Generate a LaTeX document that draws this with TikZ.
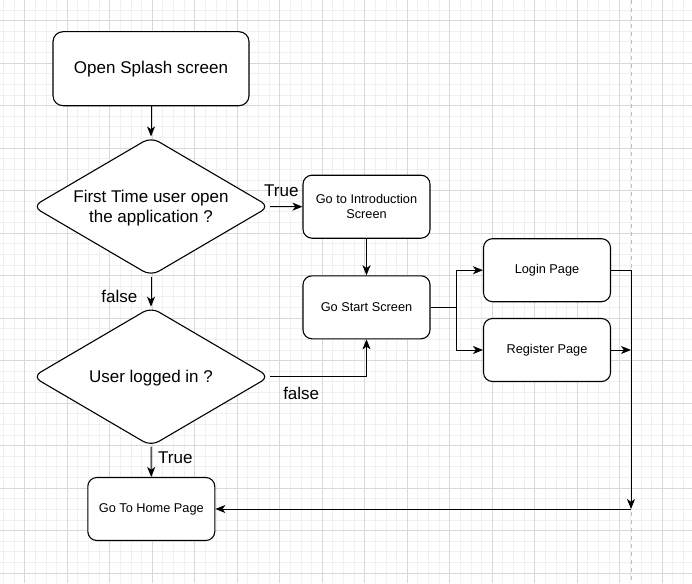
\documentclass[tikz,border=0pt]{standalone}
\usepackage{fontspec}
\setmainfont{Liberation Sans}
\usetikzlibrary{shapes.geometric,arrows.meta}
\definecolor{gridminor}{RGB}{240,240,240}
\definecolor{gridmajor}{RGB}{216,216,216}
\definecolor{pagebrk}{RGB}{192,192,192}
\begin{document}
\begin{tikzpicture}[x=1pt,y=-1pt,
 box/.style={draw=black, line width=1.1pt, fill=white, rounded corners=9pt, inner sep=0pt,
   minimum width=127pt, minimum height=63pt, font=\fontsize{12.75}{15}\selectfont, align=center},
 bigbox/.style={box, rounded corners=10pt, minimum width=196pt, minimum height=74pt,
   font=\fontsize{17}{20}\selectfont},
 dia/.style={diamond, draw=black, line width=1.1pt, fill=white, rounded corners=9pt,
   inner sep=0pt, minimum width=237pt, minimum height=139pt},
 bigtext/.style={font=\fontsize{17}{20}\selectfont, align=center, inner sep=0pt},
 lbl/.style={font=\fontsize{17}{20}\selectfont, inner sep=0pt, anchor=base},
 conn/.style={draw=black, line width=1pt, -{Stealth[length=10pt,width=8pt,inset=2.8pt]}},
 plainline/.style={draw=black, line width=1pt},
 minorline/.style={draw=gridminor, line width=1pt},
 majorline/.style={draw=gridmajor, line width=1pt},
 pageline/.style={draw=pagebrk, line width=1pt, dash pattern=on 4pt off 4pt},
]
\useasboundingbox (0,0) rectangle (692,583);
\fill[white] (0,0) rectangle (692,583);
% grid
\foreach \i in {0,...,64} { \draw[minorline] ({3.55+10.625*\i},0) -- ({3.55+10.625*\i},583); }
\foreach \i in {0,...,53} { \draw[minorline] (0,{10.075+10.625*\i}) -- (692,{10.075+10.625*\i}); }
\foreach \i in {0,...,15} { \draw[majorline] ({24.8+42.5*\i},0) -- ({24.8+42.5*\i},583); }
\foreach \i in {0,...,13} { \draw[majorline] (0,{20.7+42.5*\i}) -- (692,{20.7+42.5*\i}); }
\draw[pageline] (631,0) -- (631,583);

% nodes
\node[bigbox] (splash) at (151,68.7) {Open Splash screen};
\node[dia] (d1) at (151,206.5) {};
\node[bigtext] (d1t) at (151,208) {First Time user open\\the application ?};
\node[box] (intro) at (366.5,206.7) {Go to Introduction\\Screen};
\node[box] (start) at (366.5,307.3) {Go Start Screen};
\node[dia] (d2) at (151,376.7) {};
\node[bigtext] (d2t) at (151,377.7) {User logged in ?};
\node[box] (home) at (151.3,509) {Go To Home Page};
\node[box] (login) at (547,270.2) {Login Page};
\node[box] (reg) at (547,350) {Register Page};
\coordinate (fork) at (456.7,307.3);
\coordinate (corner) at (631,509);

% connectors
\draw[conn] (splash) -- (d1);
\draw[conn] (d1.east) -- (intro.west);
\draw[conn] (intro) -- (start);
\draw[conn] (d1) -- (d2);
\draw[conn] (d2.east) -| (start.south);
\draw[conn] (d2) -- (home);
\draw[plainline] (start.east) -- (fork);
\draw[conn] (fork) |- (login.west);
\draw[conn] (fork) |- (reg.west);
\draw[conn] (login.east) -| (corner);
\draw[conn] (reg.east) -- (reg.east -| corner);
\draw[conn] (corner) -- (home.east);

% labels
\node[lbl] (ltrue1) at (281.3,196) {True};
\node[lbl] (lfalse1) at (119.3,302.7) {false};
\node[lbl] (lfalse2) at (301.2,399) {false};
\node[lbl] (ltrue2) at (175.3,463.3) {True};
\end{tikzpicture}
\end{document}
